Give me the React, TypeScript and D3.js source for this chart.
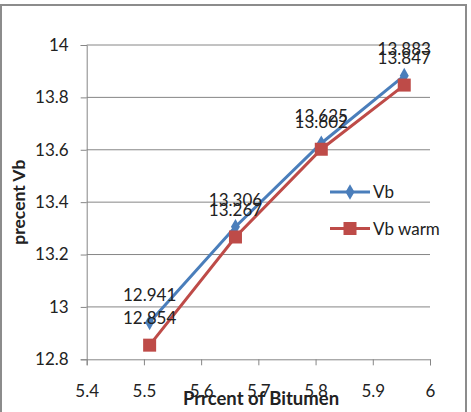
import React, { useRef, useEffect } from "react";
import * as d3 from "d3";

const bitumen = [5.51, 5.66, 5.81, 5.955];
const vb = [12.941, 13.306, 13.625, 13.883];
const vbWarm = [12.854, 13.267, 13.602, 13.847];
const xTicks = [5.4, 5.5, 5.6, 5.7, 5.8, 5.9, 6];
const yTicks = [12.8, 13, 13.2, 13.4, 13.6, 13.8, 14];
const seriesNames = ["Vb", "Vb warm"];

const W = 471;
const H = 412;
const font = "Lato, 'Liberation Sans', sans-serif";

const App = () => {
  const svgRef = useRef<SVGSVGElement>(null);

  useEffect(() => {
    const svg = d3.select(svgRef.current);
    svg.selectAll("*").remove();

    const x = d3.scaleLinear().domain([5.4, 6]).range([86.7, 430]);
    const y = d3.scaleLinear().domain([12.8, 14]).range([359.3, 45]);

    // frame
    svg.append("rect")
      .attr("x", 1).attr("y", 5).attr("width", 465).attr("height", 420)
      .attr("fill", "white").attr("stroke", "#8c8c8c").attr("stroke-width", 2);

    // grid
    svg.append("g").selectAll("line")
      .data(yTicks.slice(1))
      .join("line")
      .attr("x1", x(5.4)).attr("x2", x(6))
      .attr("y1", d => y(d)).attr("y2", d => y(d))
      .attr("stroke", "#868686").attr("stroke-width", 1);

    const yAxis = d3.axisLeft(y).tickValues(yTicks).tickSize(6).tickPadding(12)
      .tickFormat(d => String(+d));
    const gy = svg.append("g").attr("transform", `translate(${x(5.4)},0)`).call(yAxis);
    gy.select(".domain").attr("stroke", "#868686");
    gy.selectAll(".tick line").attr("stroke", "#868686");
    gy.selectAll("text").attr("font-family", font).attr("font-size", 17).attr("fill", "#222");

    const xAxis = d3.axisBottom(x).tickValues(xTicks).tickSize(6).tickPadding(20)
      .tickFormat(d => String(+d));
    const gx = svg.append("g").attr("transform", `translate(0,${y(12.8)})`).call(xAxis);
    gx.select(".domain").attr("stroke", "#868686");
    gx.selectAll(".tick line").attr("stroke", "#868686");
    gx.selectAll("text").attr("font-family", font).attr("font-size", 17).attr("fill", "#222");

    const line = d3.line<number>()
      .x((d, i) => x(bitumen[i]))
      .y(d => y(d));

    const colors = ["#4a7ebb", "#be4b48"];
    const series = [vb, vbWarm];

    series.forEach((s, k) => {
      svg.append("path")
        .datum(s)
        .attr("d", line)
        .attr("fill", "none")
        .attr("stroke", colors[k])
        .attr("stroke-width", 3);
    });

    // markers
    svg.append("g").selectAll("path")
      .data(vb)
      .join("path")
      .attr("d", d3.symbol(d3.symbolDiamond, 70)())
      .attr("transform", (d, i) => `translate(${x(bitumen[i])},${y(d)})`)
      .attr("fill", colors[0]);
    svg.append("g").selectAll("rect")
      .data(vbWarm)
      .join("rect")
      .attr("x", (d, i) => x(bitumen[i]) - 6.5)
      .attr("y", d => y(d) - 6.5)
      .attr("width", 13).attr("height", 13)
      .attr("fill", colors[1]);

    // data labels
    series.forEach((s, k) => {
      svg.append("g").selectAll("text")
        .data(s)
        .join("text")
        .attr("x", (d, i) => x(bitumen[i]))
        .attr("y", d => y(d) - 21)
        .attr("text-anchor", "middle")
        .attr("font-family", font).attr("font-size", 17).attr("fill", "#222")
        .text(d => String(d));
    });

    // legend
    const lg = svg.append("g");
    seriesNames.forEach((name, k) => {
      const ly = 192 + k * 36.5;
      lg.append("line")
        .attr("x1", 330).attr("x2", 370).attr("y1", ly).attr("y2", ly)
        .attr("stroke", colors[k]).attr("stroke-width", 3);
      if (k === 0) {
        lg.append("path")
          .attr("d", d3.symbol(d3.symbolDiamond, 70)())
          .attr("transform", `translate(350,${ly})`)
          .attr("fill", colors[k]);
      } else {
        lg.append("rect")
          .attr("x", 343.5).attr("y", ly - 6.5).attr("width", 13).attr("height", 13)
          .attr("fill", colors[k]);
      }
      lg.append("text")
        .attr("x", 373).attr("y", ly + 6)
        .attr("font-family", font).attr("font-size", 17).attr("fill", "#222")
        .text(name);
    });

    // axis titles
    svg.append("text")
      .attr("transform", `translate(25,${(y(12.8) + y(14)) / 2}) rotate(-90)`)
      .attr("text-anchor", "middle")
      .attr("font-family", font).attr("font-size", 17.5).attr("font-weight", "bold").attr("fill", "#222")
      .text("precent Vb");
    svg.append("text")
      .attr("x", 261).attr("y", 405)
      .attr("text-anchor", "middle")
      .attr("font-family", font).attr("font-size", 18.5).attr("font-weight", "bold").attr("fill", "#222")
      .text("Prrcent of Bitumen");
  }, []);

  return (
    <div style={{ position: "absolute", left: 0, top: 0 }}>
      <svg ref={svgRef} width={W} height={H} style={{ display: "block" }} />
    </div>
  );
};

export default App;
